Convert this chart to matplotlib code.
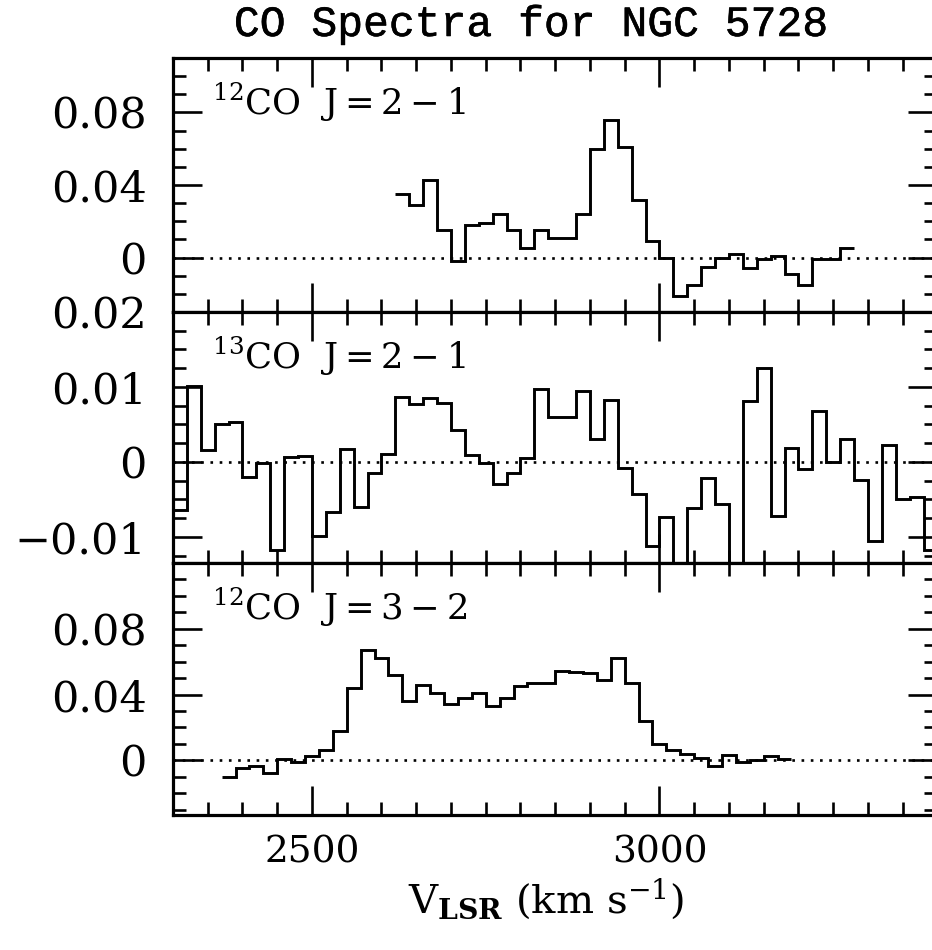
import matplotlib as mpl
import matplotlib.pyplot as plt
import matplotlib.patheffects as pe
import numpy as np
from matplotlib.ticker import MultipleLocator, FixedLocator

mpl.use('Agg')
plt.rcParams['font.family'] = 'DejaVu Serif'
plt.rcParams['mathtext.fontset'] = 'dejavuserif'

DV = 20  # channel width, km/s

# 12CO J=2-1 (K), first channel edge 2620 km/s
co21_v0 = 2620
co21 = [0.035, 0.029, 0.043, 0.015, -0.002, 0.018, 0.019, 0.024, 0.015, 0.005,
        0.015, 0.011, 0.011, 0.024, 0.060, 0.076, 0.061, 0.032, 0.009, 0.000,
        -0.021, -0.015, -0.005, 0.000, 0.002, -0.006, -0.001, 0.001, -0.009,
        -0.015, -0.001, -0.001, 0.005]

# 13CO J=2-1 (K), first channel edge 2280 km/s
co13_v0 = 2280
co13 = [-0.0015, -0.0064, 0.0101, 0.0016, 0.0051, 0.0053, -0.0020, -0.0001,
        -0.0117, 0.0006, 0.0008, -0.0099, -0.0067, 0.0017, -0.0060, -0.0015,
        0.0010, 0.0086, 0.0077, 0.0085, 0.0078, 0.0042, 0.0009, -0.0002,
        -0.0029, -0.0015, 0.0005, 0.0097, 0.0060, 0.0060, 0.0095, 0.0030,
        0.0082, -0.0008, -0.0043, -0.0112, -0.0073, -0.0180, -0.0062, -0.0021,
        -0.0056, -0.0180, 0.0081, 0.0125, -0.0072, 0.0019, -0.0010, 0.0068,
        0.0000, 0.0030, -0.0024, -0.0105, 0.0022, -0.0049, -0.0047, -0.0117]

# 12CO J=3-2 (K), first channel edge 2370 km/s
co32_v0 = 2370
co32 = [-0.0100, -0.0045, -0.0035, -0.0075, 0.0010, -0.0010, 0.0025, 0.0060,
        0.0180, 0.0440, 0.0670, 0.0625, 0.0520, 0.0360, 0.0460, 0.0410,
        0.0340, 0.0380, 0.0410, 0.0330, 0.0380, 0.0450, 0.0470, 0.0470,
        0.0540, 0.0535, 0.0530, 0.0486, 0.0620, 0.0470, 0.0240, 0.0100,
        0.0060, 0.0040, 0.0016, -0.0034, 0.0034, -0.0010, 0.0004, 0.0024,
        0.0006]

panels = [
    (co21_v0, co21, r'$^{12}\mathrm{CO}\ \ \mathrm{J}=2-1$', (-0.03, 0.11), [0, 0.04, 0.08], 0.01),
    (co13_v0, co13, r'$^{13}\mathrm{CO}\ \ \mathrm{J}=2-1$', (-0.0135, 0.02), [-0.01, 0, 0.01, 0.02], 0.0025),
    (co32_v0, co32, r'$^{12}\mathrm{CO}\ \ \mathrm{J}=3-2$', (-0.0333, 0.12), [0, 0.04, 0.08], 0.01),
]

W, H = 932, 950
fig = plt.figure(figsize=(W / 100, H / 100), dpi=100)
x0, x1 = 173, 937.4
rows = [(58, 312), (312, 563), (563, 815)]

axes = []
for (top, bot), (v0, vals, label, ylim, yticks, yminor) in zip(rows, panels):
    ax = fig.add_axes([x0 / W, 1 - bot / H, (x1 - x0) / W, (bot - top) / H])
    edges = v0 + DV * np.arange(len(vals) + 1)
    ax.stairs(vals, edges, baseline=None, color='black', lw=2.1)
    ax.axhline(0, color='black', lw=1.9, ls=(0, (1, 2.5)))
    ax.set_xlim(2300, 3400)
    ax.set_ylim(*ylim)
    ax.xaxis.set_major_locator(MultipleLocator(500))
    ax.xaxis.set_minor_locator(MultipleLocator(50))
    ax.yaxis.set_major_locator(FixedLocator(yticks))
    ax.yaxis.set_minor_locator(MultipleLocator(yminor))
    ax.yaxis.set_major_formatter(plt.FuncFormatter(
        lambda y, p: '0' if abs(y) < 1e-9 else ('%g' % y).replace('-', '\u2212')))
    ax.tick_params(which='both', direction='in', top=True, right=True,
                   width=1.9, color='black')
    ax.tick_params(which='major', length=21)
    ax.tick_params(which='minor', length=9.5)
    ax.tick_params(axis='y', labelsize=31, pad=19)
    ax.tick_params(axis='x', labelsize=27, pad=14)
    for s in ax.spines.values():
        s.set_linewidth(2.3)
    ax.text(0.051, 1 - 57 / (bot - top), label, transform=ax.transAxes,
            fontsize=25.5, va='baseline', ha='left')
    axes.append(ax)

for ax in axes[:-1]:
    ax.tick_params(labelbottom=False)

fig.text(530 / W, 1 - 36 / H, 'CO Spectra for NGC 5728', family='Liberation Mono',
         fontsize=31, ha='center', va='baseline',
         path_effects=[pe.withStroke(linewidth=0.4, foreground='black')])
fig.text(546 / W, 1 - 912 / H, r'V$_{\mathbf{LSR}}$ (km s$^{-1}$)', fontsize=29,
         ha='center', va='baseline')

fig.savefig('out.png', dpi=100)
